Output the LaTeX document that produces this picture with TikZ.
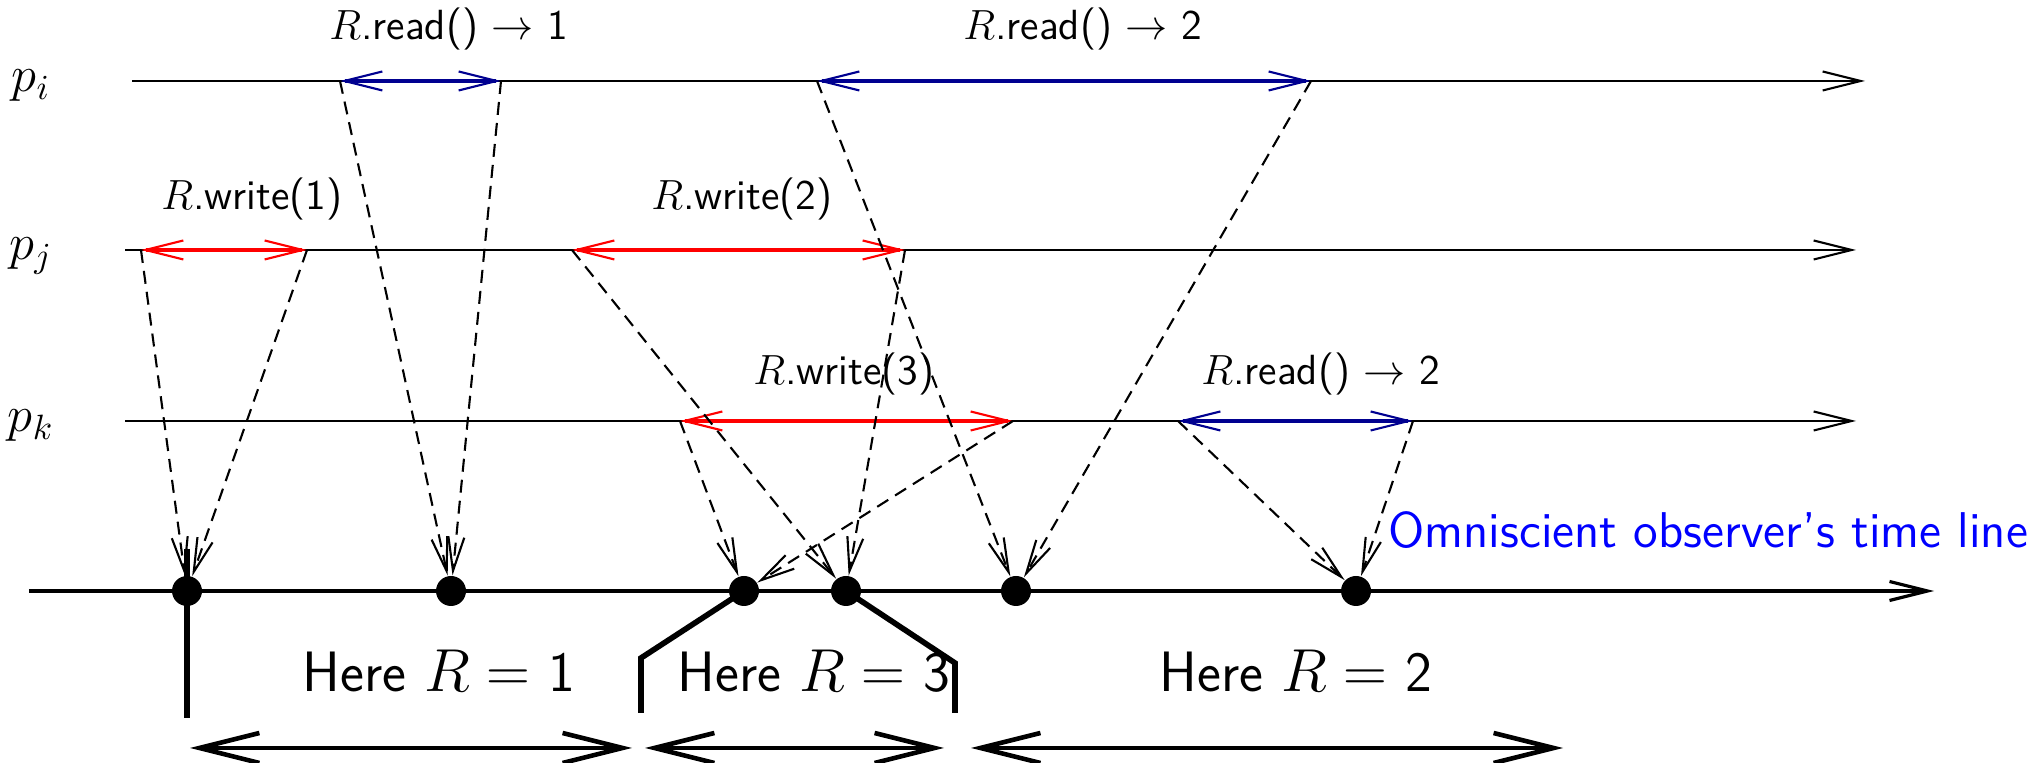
\documentclass[tikz,border=0pt]{standalone}
\usepackage{tikz}
\usepackage{amsmath}
\usepackage{xcolor}
\usetikzlibrary{arrows.meta}
\definecolor{rdblue}{RGB}{0,0,144}
\definecolor{wrred}{RGB}{255,0,0}
\definecolor{obsblue}{RGB}{0,0,255}

\begin{document}
\begin{tikzpicture}[
  proc/.style={line width=0.6pt, -{Straight Barb[length=3.8mm, width=1.9mm, line width=0.6pt]}},
  omni/.style={line width=1.1pt, -{Straight Barb[length=3.8mm, width=1.9mm, line width=0.9pt]}},
  op/.style={line width=1.3pt, draw=#1, {Straight Barb[length=3.8mm, width=1.9mm, line width=0.6pt]}-{Straight Barb[length=3.8mm, width=1.9mm, line width=0.6pt]}},
  msg/.style={line width=0.6pt, dash pattern=on 3.7pt off 2.3pt, -{Straight Barb[length=3.4mm, width=1.6mm, line width=0.6pt]}},
  lin/.style={line width=1.6pt},
  period/.style={line width=1.2pt, {Straight Barb[length=6mm, width=3mm, line width=1.3pt]}-{Straight Barb[length=6mm, width=3mm, line width=1.3pt]}},
  obsdot/.style={circle, fill=black, inner sep=0pt, minimum size=3mm},
  plabel/.style={font=\fontsize{14}{16}\selectfont, anchor=base},
  oplabel/.style={font=\sffamily\fontsize{12}{14}\selectfont, anchor=base},
  herelabel/.style={font=\sffamily\fontsize{16.2}{19}\selectfont, anchor=base},
]
  \useasboundingbox (0,0) rectangle (20.42,7.63);

  % Processes
  \node[plabel] (lpi) at (0.31,6.71) {$p_i$};
  \node[plabel] (lpj) at (0.31,5.03) {$p_j$};
  \node[plabel] (lpk) at (0.31,3.31) {$p_k$};
  \coordinate (pi0) at (1.32,6.82); \coordinate (pi1) at (18.65,6.82);
  \coordinate (pj0) at (1.25,5.13); \coordinate (pj1) at (18.56,5.13);
  \coordinate (pk0) at (1.25,3.42); \coordinate (pk1) at (18.56,3.42);
  \draw[proc] (pi0) -- (pi1);
  \draw[proc] (pj0) -- (pj1);
  \draw[proc] (pk0) -- (pk1);

  % Operations
  \coordinate (w1s) at (1.41,5.13); \coordinate (w1e) at (3.07,5.13);
  \coordinate (w2s) at (5.72,5.13); \coordinate (w2e) at (9.05,5.13);
  \coordinate (w3s) at (6.80,3.42); \coordinate (w3e) at (10.13,3.42);
  \coordinate (r1s) at (3.40,6.82); \coordinate (r1e) at (5.01,6.82);
  \coordinate (r2s) at (8.17,6.82); \coordinate (r2e) at (13.11,6.82);
  \coordinate (r3s) at (11.78,3.42); \coordinate (r3e) at (14.13,3.42);
  \draw[op=wrred] (w1s) -- (w1e);
  \draw[op=wrred] (w2s) -- (w2e);
  \draw[op=wrred] (w3s) -- (w3e);
  \draw[op=rdblue] (r1s) -- (r1e);
  \draw[op=rdblue] (r2s) -- (r2e);
  \draw[op=rdblue] (r3s) -- (r3e);
  \node[oplabel] (lr1) at (4.49,7.23) {$R$.read() $\rightarrow$ 1};
  \node[oplabel] (lr2) at (10.83,7.23) {$R$.read() $\rightarrow$ 2};
  \node[oplabel] (lw1) at (2.52,5.53) {$R$.write(1)};
  \node[oplabel] (lw2) at (7.42,5.53) {$R$.write(2)};
  \node[oplabel] (lw3) at (8.44,3.78) {$R$.write(3)};
  \node[oplabel] (lr3) at (13.21,3.78) {$R$.read() $\rightarrow$ 2};

  % Omniscient observer
  \coordinate (om0) at (0.29,1.72); \coordinate (om1) at (19.34,1.72);
  \draw[omni] (om0) -- (om1);
  \node[oplabel, font=\sffamily\fontsize{14.3}{17}\selectfont, text=obsblue, anchor=base west] (obs) at (13.76,2.15) {Omniscient observer's time line};
  \foreach \n/\x in {1/1.87,2/4.51,3/7.44,4/8.46,5/10.16,6/13.56}
    \node[obsdot] (o\n) at (\x,1.72) {};

  % Intervals
  \coordinate (b1t) at (1.87,2.14); \coordinate (b1b) at (1.87,0.45);
  \draw[lin] (b1t) -- (b1b);
  \coordinate (b2m) at (6.41,1.05); \coordinate (b2b) at (6.41,0.50);
  \draw[lin] (o3.center) -- (b2m) -- (b2b);
  \coordinate (b3m) at (9.55,1.00); \coordinate (b3b) at (9.55,0.50);
  \draw[lin] (o4.center) -- (b3m) -- (b3b);
  \node[herelabel] (h1) at (4.39,0.71) {Here $R=$ 1};
  \node[herelabel] (h3) at (8.14,0.71) {Here $R=$ 3};
  \node[herelabel] (h2) at (12.96,0.71) {Here $R=$ 2};
  \coordinate (a1l) at (1.90,0.15); \coordinate (a1r) at (6.32,0.15);
  \coordinate (a3l) at (6.45,0.15); \coordinate (a3r) at (9.44,0.15);
  \coordinate (a2l) at (9.71,0.15); \coordinate (a2r) at (15.63,0.15);
  \draw[period] (a1l) -- (a1r);
  \draw[period] (a3l) -- (a3r);
  \draw[period] (a2l) -- (a2r);

  % Messages to the observer
  \draw[msg] (w1s) -- (o1);
  \draw[msg] (w1e) -- (o1);
  \draw[msg] (r1s) -- (o2);
  \draw[msg] (r1e) -- (o2);
  \draw[msg] (w3s) -- (o3);
  \draw[msg] (w3e) -- (o3);
  \draw[msg] (w2s) -- (o4);
  \draw[msg] (w2e) -- (o4);
  \draw[msg] (r2s) -- (o5);
  \draw[msg] (r2e) -- (o5);
  \draw[msg] (r3s) -- (o6);
  \draw[msg] (r3e) -- (o6);
\end{tikzpicture}
\end{document}
